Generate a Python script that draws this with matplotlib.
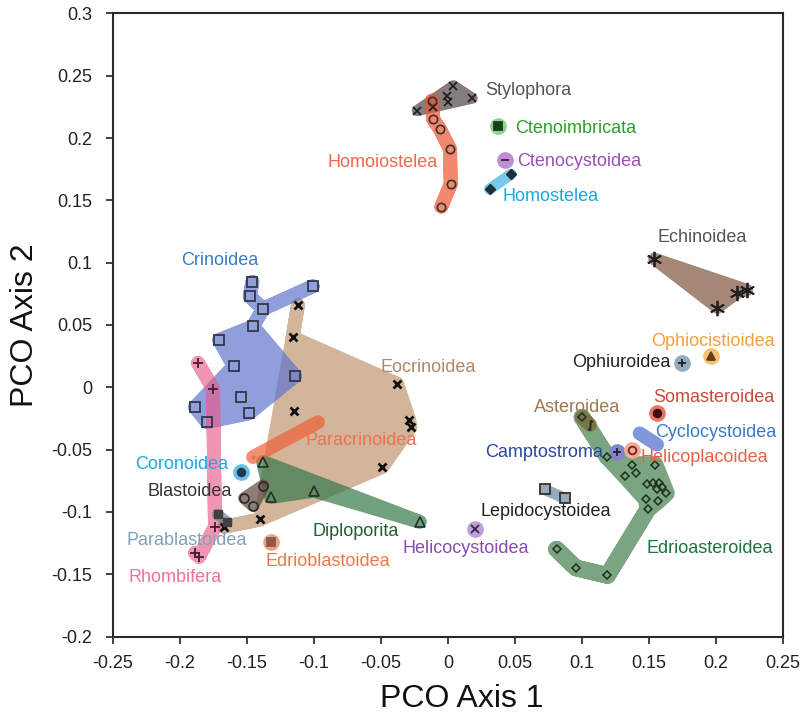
import numpy as np
import matplotlib
matplotlib.use('Agg')
import matplotlib.pyplot as plt
from matplotlib.path import Path
from matplotlib.patches import PathPatch

plt.rcParams['font.family'] = ['Liberation Sans', 'DejaVu Sans']

# ---- PCO scores (axis 1, axis 2) ----
stylo_x = [-0.023, -0.011, -0.001, 0.000, 0.004, 0.018]
stylo_y = [0.222, 0.225, 0.234, 0.229, 0.242, 0.232]

homoio_x = [-0.012, -0.011, -0.006, 0.0015, 0.002, -0.005]
homoio_y = [0.230, 0.215, 0.207, 0.191, 0.163, 0.145]

homost_x = [0.031, 0.047]
homost_y = [0.159, 0.171]

echino_x = [0.154, 0.201, 0.216, 0.223]
echino_y = [0.103, 0.064, 0.076, 0.078]

crino_x = [-0.146, -0.148, -0.138, -0.101, -0.1455, -0.171, -0.160, -0.114, -0.1545, -0.189, -0.1485, -0.180]
crino_y = [0.0845, 0.073, 0.063, 0.081, 0.049, 0.038, 0.017, 0.009, -0.008, -0.016, -0.021, -0.028]

eocrin_x = [-0.112, -0.116, -0.038, -0.029, -0.028, -0.115, -0.049, -0.140, -0.167]
eocrin_y = [0.066, 0.040, 0.003, -0.026, -0.032, -0.019, -0.064, -0.106, -0.112]

paracr_x = [-0.1455, -0.097]
paracr_y = [-0.056, -0.028]

blasto_x = [-0.138, -0.152, -0.1455]
blasto_y = [-0.079, -0.089, -0.095]

diplo_x = [-0.138, -0.132, -0.100, -0.021]
diplo_y = [-0.060, -0.088, -0.083, -0.108]

parabl_x = [-0.172, -0.165]
parabl_y = [-0.102, -0.108]

rhomb_x = [-0.1866, -0.1754, -0.1739, -0.1858, -0.1888]
rhomb_y = [0.0195, -0.001, -0.112, -0.136, -0.133]

lepido_x = [0.072, 0.087]
lepido_y = [-0.082, -0.089]

edrio_x = [0.100, 0.119, 0.137, 0.1545, 0.132, 0.140, 0.1485, 0.153, 0.1575, 0.160, 0.156,
           0.163, 0.148, 0.157, 0.149, 0.081, 0.0955, 0.119]
edrio_y = [-0.024, -0.056, -0.062, -0.062, -0.071, -0.069, -0.078, -0.077, -0.077, -0.080, -0.082,
           -0.085, -0.090, -0.091, -0.098, -0.130, -0.145, -0.151]

aster_x = [0.100, 0.106]
aster_y = [-0.024, -0.030]

cyclo_x = [0.143, 0.156]
cyclo_y = [-0.037, -0.046]

# single-taxon classes
single_names = ['Ctenoimbricata', 'Ctenocystoidea', 'Coronoidea', 'Edrioblastoidea', 'Helicocystoidea',
                'Camptostroma', 'Helicoplacoidea', 'Somasteroidea', 'Ophiuroidea', 'Ophiocistioidea']
single_x = [0.037, 0.0425, -0.1545, -0.132, 0.020, 0.126, 0.137, 0.156, 0.1746, 0.196]
single_y = [0.210, 0.182, -0.068, -0.124, -0.114, -0.052, -0.050, -0.0205, 0.0195, 0.025]

# class labels
label_names = ['Stylophora', 'Ctenoimbricata', 'Ctenocystoidea', 'Homostelea', 'Homoiostelea',
               'Echinoidea', 'Crinoidea', 'Eocrinoidea', 'Ophiocistioidea', 'Ophiuroidea',
               'Somasteroidea', 'Asteroidea', 'Cyclocystoidea', 'Camptostroma', 'Helicoplacoidea',
               'Paracrinoidea', 'Coronoidea', 'Blastoidea', 'Lepidocystoidea', 'Diploporita',
               'Parablastoidea', 'Helicocystoidea', 'Edrioasteroidea', 'Edrioblastoidea', 'Rhombifera']
label_x = [0.0276, 0.050, 0.0515, 0.041, -0.049, 0.190, -0.170, -0.015, 0.198, 0.166,
           0.153, 0.096, 0.1545, 0.1157, 0.144, -0.065, -0.164, -0.161, 0.073, -0.069,
           -0.195, 0.013, 0.1955, -0.090, -0.204]
label_y = [0.238, 0.208, 0.181, 0.153, 0.180, 0.120, 0.102, 0.016, 0.037, 0.020,
           -0.008, -0.016, -0.036, -0.052, -0.056, -0.043, -0.062, -0.084, -0.100, -0.116,
           -0.123, -0.129, -0.129, -0.140, -0.153]
label_ha = ['left', 'left', 'left', 'left', 'center', 'center', 'center', 'center', 'center', 'right',
            'left', 'center', 'left', 'right', 'left', 'center', 'right', 'right', 'center', 'center',
            'center', 'center', 'center', 'center', 'center']
label_col = ['#555555', '#2aa02a', '#9a50b0', '#1aa8e0', '#f06848', '#555555', '#3a7ac8', '#b08868',
             '#f0a040', '#222222', '#c84a38', '#a07850', '#3a78c8', '#2848a0', '#e86048', '#f07050',
             '#1aa8e0', '#333333', '#222222', '#206030', '#80a0b8', '#8a4ab0', '#207040', '#f07848',
             '#f070a0']

xticks = [-0.25, -0.2, -0.15, -0.1, -0.05, 0, 0.05, 0.1, 0.15, 0.2, 0.25]
yticks = [-0.2, -0.15, -0.1, -0.05, 0, 0.05, 0.1, 0.15, 0.2, 0.25, 0.3]


def fade(a):
    # flatten the whole shape to one transparency so the fill and thick edge don't stack
    def f(img, dpi):
        out = img.copy()
        out[..., 3] *= a
        return out, 0, 0
    return f


def blob(ax, xs, ys, order, color, lw=10, alpha=0.7):
    verts = [(xs[i], ys[i]) for i in order] + [(xs[order[0]], ys[order[0]])]
    codes = [Path.MOVETO] + [Path.LINETO] * (len(order) - 1) + [Path.CLOSEPOLY]
    p = PathPatch(Path(verts, codes), facecolor=color, edgecolor=color, lw=lw,
                  joinstyle='round', capstyle='round', zorder=1)
    p.set_agg_filter(fade(alpha))
    ax.add_patch(p)


fig = plt.figure(figsize=(8.05, 7.18), dpi=100)
ax = fig.add_axes([0.1404, 0.1135, 0.8323, 0.8678])

# hulls / ranges of each class
blob(ax, eocrin_x, eocrin_y, [0, 1, 2, 3, 4, 6, 7, 8, 7, 1], '#c09670')
blob(ax, crino_x, crino_y, [5, 4, 2, 1, 0, 1, 2, 3, 2, 4, 7, 10, 11, 9, 6], '#6074cc')
blob(ax, rhomb_x, rhomb_y, [0, 1, 2, 3, 4, 3, 2, 1], '#ea5b8d', lw=10, alpha=0.65)
blob(ax, diplo_x, diplo_y, [0, 3, 2, 1], '#347848')
blob(ax, blasto_x, blasto_y, [0, 1, 2], '#5b453e', lw=9)
blob(ax, paracr_x, paracr_y, [0, 1], '#ee6038', lw=10)
blob(ax, parabl_x, parabl_y, [0, 1], '#69869b', lw=8)
blob(ax, stylo_x, stylo_y, [0, 4, 5], '#544545', lw=8)
blob(ax, homoio_x, homoio_y, [0, 1, 2, 3, 4, 5, 4, 3, 2, 1], '#ee5530', lw=10)
blob(ax, homost_x, homost_y, [0, 1], '#3eb0e2', lw=8)
blob(ax, echino_x, echino_y, [0, 1, 2, 3], '#7e543e', lw=9)
blob(ax, edrio_x, edrio_y, [0, 1, 2, 3, 11, 13, 14, 17, 16, 15, 16, 17, 14, 12, 4, 1], '#427f4a', lw=12)
blob(ax, aster_x, aster_y, [0, 1], '#776230', lw=10)
blob(ax, lepido_x, lepido_y, [0, 1], '#6986a2', lw=8)
blob(ax, cyclo_x, cyclo_y, [0, 1], '#4a6ccc', lw=10)

ax.plot(stylo_x, stylo_y, ls='none', marker='x', ms=6, mec='#202020', mew=1.3, zorder=3)
ax.plot(homoio_x, homoio_y, ls='none', marker='o', ms=6, mfc='none', mec='#3a3030', mew=1.2, zorder=3)
ax.plot(homost_x, homost_y, ls='none', marker='D', ms=5, mfc='#203038', mec='#203038', zorder=3)
ax.plot(echino_x, echino_y, ls='none', marker=(6, 2, 0), ms=11, mec='#202020', mew=1.3, zorder=3)
ax.plot(crino_x, crino_y, ls='none', marker='s', ms=6.5, mfc='none', mec='#303848', mew=1.3, zorder=3)
ax.plot(eocrin_x, eocrin_y, ls='none', marker='x', ms=6, mec='#101010', mew=2, zorder=3)
ax.plot(paracr_x, paracr_y, ls='none', marker='o', ms=3, mfc='#e07060', mec='none', zorder=3)
ax.plot(blasto_x, blasto_y, ls='none', marker='o', ms=6.5, mfc='none', mec='#302828', mew=1.2, zorder=3)
ax.plot(diplo_x, diplo_y, ls='none', marker='^', ms=6.5, mfc='none', mec='#203028', mew=1.2, zorder=3)
ax.plot(parabl_x, parabl_y, ls='none', marker='s', ms=6, mfc='#404040', mec='#404040', zorder=3)
ax.plot(rhomb_x, rhomb_y, ls='none', marker='+', ms=7, mec='#402030', mew=1.3, zorder=3)
ax.plot(lepido_x, lepido_y, ls='none', marker='s', ms=6.5, mfc='none', mec='#303030', mew=1.3, zorder=3)
ax.plot(edrio_x, edrio_y, ls='none', marker='D', ms=4.5, mfc='none', mec='#203020', mew=1.1, zorder=3)
ax.plot(aster_x[1:], aster_y[1:], ls='none', marker='$\\int$', ms=7, mec='#303030', zorder=3)

# single taxa: coloured disc with a dark symbol
halo_col = ['#90d090', '#c08cd4', '#64bfea', '#f0a080', '#c09ed8',
            '#8484c8', '#f5aa96', '#e47864', '#94aac0', '#f8c070']
inner_mk = ['s', '_', 'o', 's', 'x', '+', 'o', 'o', '+', '^']
inner_fc = ['#1a401a', '#402040', '#203848', '#905848', '#402050',
            '#202040', 'none', '#401010', '#202020', '#604020']
for i in range(len(single_x)):
    ax.plot(single_x[i], single_y[i], ls='none', marker='o', ms=12, mfc=halo_col[i], mec='none', zorder=2)
    ax.plot(single_x[i], single_y[i], ls='none', marker=inner_mk[i], ms=5.5,
            mfc=inner_fc[i], mec='#7a2018' if inner_fc[i] == 'none' else inner_fc[i],
            mew=1.3, zorder=3)

for i in range(len(label_names)):
    ax.text(label_x[i], label_y[i], label_names[i], color=label_col[i], fontsize=13,
            ha=label_ha[i], va='center', zorder=4)

ax.set_xlim(-0.25, 0.25)
ax.set_ylim(-0.2, 0.3)
ax.set_xticks(xticks)
ax.set_xticklabels([f'{v:g}' for v in xticks])
ax.set_yticks(yticks)
ax.set_yticklabels([f'{v:g}' for v in yticks])
ax.tick_params(axis='x', direction='out', length=5, width=1.2, labelsize=13, pad=8.5, colors='#222222')
ax.tick_params(axis='y', direction='out', length=5, width=1.2, labelsize=13, pad=10, colors='#222222')
for s in ax.spines.values():
    s.set_color('#2a2a2a')
    s.set_linewidth(1.5)

ax.set_xlabel('PCO Axis 1', fontsize=23, color='#111111')
ax.set_ylabel('PCO Axis 2', fontsize=23, color='#111111')
ax.xaxis.set_label_coords(0.521, -0.076)
ax.yaxis.set_label_coords(-0.109, 0.5)

fig.savefig('out.png', dpi=100)
